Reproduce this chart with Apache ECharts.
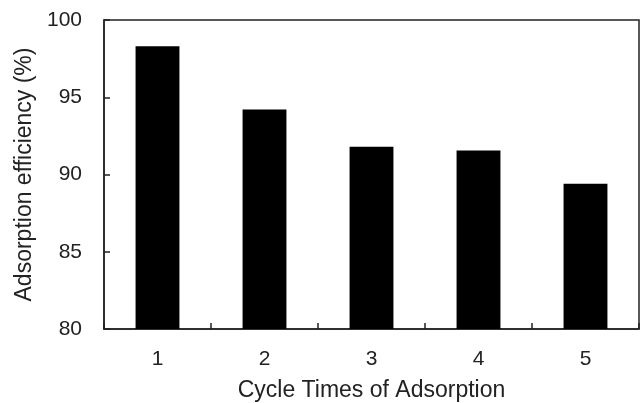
<!DOCTYPE html>
<html>
<head>
<meta charset="utf-8">
<script src="https://cdn.jsdelivr.net/npm/echarts@6/dist/echarts.min.js"></script>
<style>html,body{margin:0;padding:0;background:#fff;}#c{width:642px;height:403px;}</style>
</head>
<body>
<div id="c"></div>
<script>
const categories = ['1', '2', '3', '4', '5'];
const efficiency = [98.3, 94.2, 91.8, 91.55, 89.4];
const yTicks = [80, 85, 90, 95, 100];

const chart = echarts.init(document.getElementById('c'), null, {renderer: 'canvas'});
const font = 'Liberation Sans, Arial, sans-serif';
chart.setOption({
  animation: false,
  backgroundColor: '#fff',
  grid: {left: 104, top: 20, right: 3, bottom: 74, outerBoundsMode: 'none', containLabel: false, show: true, borderColor: '#222', borderWidth: 1.5, backgroundColor: 'transparent'},
  xAxis: {
    type: 'category',
    data: categories,
    name: 'Cycle Times of Adsorption',
    nameLocation: 'middle',
    nameGap: 50,
    nameTextStyle: {fontSize: 23, color: '#222', fontFamily: font},
    axisLine: {lineStyle: {color: '#222', width: 1.5}},
    axisTick: {show: true, inside: true, length: 6, lineStyle: {color: '#222', width: 1.5}, alignWithLabel: false},
    axisLabel: {fontSize: 21, color: '#222', fontFamily: font, margin: 20},
    splitLine: {show: false}
  },
  yAxis: {
    type: 'value',
    min: yTicks[0],
    max: yTicks[yTicks.length - 1],
    interval: 5,
    name: 'Adsorption efficiency (%)',
    nameLocation: 'middle',
    nameGap: 67,
    nameRotate: 90,
    nameTextStyle: {fontSize: 23, color: '#222', fontFamily: font},
    axisLine: {show: true, lineStyle: {color: '#222', width: 1.5}},
    axisTick: {show: true, inside: true, length: 6, lineStyle: {color: '#222', width: 1.5}},
    axisLabel: {fontSize: 21, color: '#222', fontFamily: font, margin: 22},
    splitLine: {show: false}
  },
  series: [{
    type: 'bar',
    data: efficiency,
    barWidth: '41%',
    itemStyle: {color: '#000'}
  }]
});
</script>
</body>
</html>
